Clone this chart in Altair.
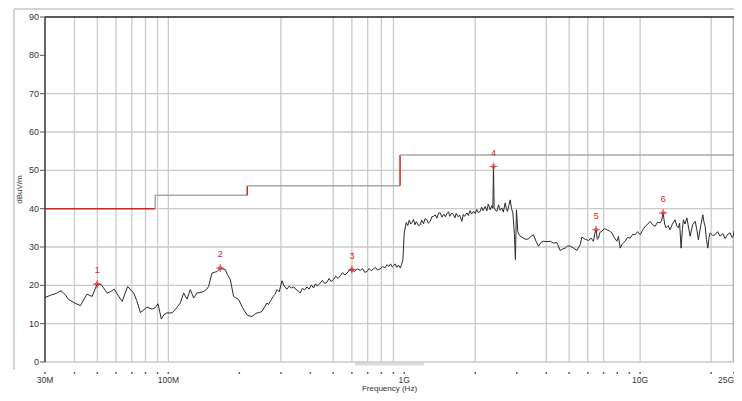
import altair as alt
import pandas as pd

# ---- measured trace (frequency in MHz, level in dBuV/m) ----
freq_a = [30, 31.6, 33.5, 35.1, 36.5, 37.8, 40, 42.4, 44, 45.2, 47.5, 49.9, 51.9, 55.0, 57, 59.0, 61.5, 63.7,
          67.2, 71.3, 73.5, 76.1, 81.2, 85.3, 88, 90.4, 93.4, 96, 98.7, 103.7, 108, 112.4, 116.1, 120, 123.9,
          128, 132.3, 136, 141.1, 145, 148.1, 153.1, 157, 160.8, 166.1, 170, 174.4, 178, 183.1, 189.1, 193,
          198.6, 205.2, 210, 215.6, 220, 226.3, 232, 237.5, 243, 249.5, 255, 261.9, 266, 270.5, 274, 277.7,
          283, 288.8, 295]
level_a = [16.8, 17.4, 17.9, 18.6, 17.6, 16.3, 15.4, 14.7, 16.5, 17.7, 17.1, 20.3, 20.2, 18.0, 18.4, 19.0, 17.2,
           15.8, 19.7, 18.0, 16.0, 12.9, 14.3, 13.8, 14.2, 15.2, 11.2, 12.4, 12.8, 12.8, 14.0, 15.4, 18.0, 16.4,
           18.9, 16.7, 18.0, 18.1, 18.4, 18.9, 19.7, 23.2, 23.4, 23.6, 24.5, 24.3, 24.1, 22.8, 21.5, 17.1, 16.8,
           16.3, 14.5, 13.4, 12.3, 12.0, 11.9, 12.4, 12.8, 12.9, 13.2, 14.2, 15.4, 15.0, 15.8, 16.4, 17.1, 17.6,
           18.9, 18.3]

freq_b = [303.2, 310, 318.4, 325, 332, 339.6, 346, 354, 362.5, 370, 378, 387, 395, 404, 412.8, 420, 428, 440.6,
          450, 460, 470.5, 480, 490, 501.6, 512, 524, 535.7, 548, 560, 571.8, 585, 600, 615, 630, 651, 665, 680,
          695, 710, 725, 741, 755, 770, 791, 810, 830, 845, 860, 875, 890, 901, 915, 930, 945, 962, 975, 987,
          1000, 1020]
level_b = [21.2, 19.8, 19.0, 19.8, 19.3, 19.6, 19.0, 18.6, 18.0, 19.2, 18.8, 19.6, 19.0, 20.1, 19.3, 20.4, 19.8,
           20.6, 21.3, 20.5, 20.8, 21.8, 21.0, 21.5, 22.4, 21.8, 22.5, 23.3, 22.7, 23.2, 23.9, 24.1, 23.6, 24.3,
           23.9, 24.4, 23.4, 23.6, 24.4, 23.8, 24.3, 24.7, 24.0, 24.3, 24.9, 24.6, 25.4, 24.9, 25.6, 24.8, 25.1,
           25.6, 24.7, 25.3, 24.5, 25.5, 26.7, 33.7, 36.4]

freq_c = [1035, 1050, 1065, 1078, 1095, 1110, 1125, 1150, 1170, 1185, 1207, 1225, 1248, 1265, 1289, 1310, 1331,
          1353, 1375, 1400, 1421, 1445, 1470, 1495, 1517, 1540, 1560, 1590, 1618, 1640, 1660, 1690, 1720, 1756,
          1780, 1800, 1844, 1870, 1900, 1930, 1967, 2000, 2030, 2060, 2099, 2130, 2160, 2204, 2240, 2270, 2314,
          2350, 2375, 2390, 2405, 2440, 2471, 2510, 2550, 2594, 2630, 2679, 2710, 2740, 2775, 2813, 2850, 2888,
          2930, 2960, 2990, 3030, 3081]
level_c = [35.6, 37.0, 36.0, 36.3, 37.2, 35.8, 36.6, 35.6, 35.8, 37.0, 36.1, 37.4, 37.1, 36.2, 36.7, 37.9, 38.0,
           38.4, 37.5, 38.9, 38.9, 37.8, 38.6, 37.9, 38.7, 39.2, 38.0, 38.9, 38.4, 37.6, 38.8, 37.9, 38.3, 36.7,
           38.5, 38.0, 38.9, 38.2, 39.5, 38.6, 39.3, 38.7, 39.8, 39.0, 39.3, 40.4, 39.5, 40.6, 39.4, 41.2, 39.7,
           40.8, 40.1, 51.0, 40.3, 39.5, 39.3, 41.0, 39.6, 40.2, 39.1, 41.5, 40.0, 39.3, 40.8, 42.3, 40.0, 38.9,
           33.5, 26.7, 39.7, 34.0, 33.0]

freq_d = [3203, 3280, 3363, 3450, 3531, 3620, 3708, 3800, 3894, 4000, 4157, 4300, 4436, 4581, 4700, 4811, 4930,
          5051, 5200, 5393, 5569, 5662, 5850, 6038, 6200, 6340, 6420, 6510, 6580, 6658, 6750, 6882, 7050, 7226,
          7400, 7587, 7750, 7966, 8100, 8227, 8400, 8638, 8850, 9070, 9300, 9524, 9750, 10000, 10250, 10500,
          10750, 11020, 11300, 11580, 11850, 12150, 12350, 12520, 12700, 12890, 13150, 13400, 13700, 14070,
          14300, 14530, 14700, 14920, 15100, 15260, 15500, 15780, 16000, 16290, 16700, 17110, 17400, 17660,
          18000, 18440, 18650, 18860, 19100, 19360, 19600, 19800, 20300, 20790, 21300, 21830, 22400, 22920,
          23500, 24070, 24500, 24850, 25000]
level_d = [32.3, 32.0, 32.1, 32.8, 33.2, 31.5, 30.2, 31.2, 31.5, 31.4, 31.5, 31.0, 31.2, 29.1, 29.5, 29.7, 30.3,
           30.2, 29.8, 29.1, 30.6, 32.6, 32.0, 31.7, 32.3, 31.5, 33.5, 34.5, 32.0, 32.3, 33.8, 34.1, 34.8, 34.5,
           34.2, 33.7, 32.6, 31.5, 32.8, 29.7, 30.8, 31.5, 32.5, 32.3, 33.3, 33.2, 34.0, 33.2, 34.4, 35.4, 35.9,
           36.7, 35.8, 35.4, 36.5, 36.3, 37.0, 38.9, 36.0, 35.0, 35.6, 34.5, 36.0, 37.1, 35.5, 35.0, 36.2, 29.7,
           34.5, 37.1, 36.0, 37.6, 35.5, 32.8, 35.8, 36.7, 34.5, 31.9, 35.0, 38.4, 36.5, 35.4, 32.0, 29.7, 32.5,
           33.7, 33.0, 33.2, 34.0, 32.8, 33.5, 32.2, 33.3, 33.7, 32.5, 32.8, 34.2]

# ---- limit line segments ----
lim_f1 = [30, 88, 88, 216, 216, 960, 960]
lim_f2 = [88, 88, 216, 216, 960, 960, 25000]
lim_l1 = [40, 40, 43.5, 43.5, 46, 46, 54]
lim_l2 = [40, 43.5, 43.5, 46, 46, 54, 54]
lim_col = ["#e02020", "#a8a8a8", "#a8a8a8", "#e02020", "#a8a8a8", "#e02020", "#a8a8a8"]

# ---- markers ----
mk_freq = [49.9, 166, 600, 2390, 6510, 12520]
mk_level = [20.3, 24.5, 24.1, 51.0, 34.5, 38.9]
mk_label = ["1", "2", "3", "4", "5", "6"]

# ---- axes / grid ----
x_ticks = [30, 40, 50, 60, 70, 80, 90, 100, 200, 300, 400, 500, 600, 700, 800, 900,
           1000, 2000, 3000, 4000, 5000, 6000, 7000, 8000, 9000, 10000, 20000, 25000]
x_label_vals = [30, 100, 1000, 10000, 25000]
x_label_text = ["30M", "100M", "1G", "10G", "25G"]
v_grid = [40, 50, 60, 70, 80, 90, 100, 300, 500, 600, 700, 800, 900,
          2000, 4000, 5000, 6000, 7000, 10000, 20000]
h_grid = [0, 10, 20, 30, 40, 50, 60, 70]
y_ticks = [0, 10, 20, 30, 40, 50, 60, 70, 80, 90]
x_title = "Frequency (Hz)"
y_title = "dBuV/m"

for fl, ll in [(freq_a, level_a), (freq_b, level_b), (freq_c, level_c), (freq_d, level_d)]:
    assert len(fl) == len(ll)

trace = pd.DataFrame({"f": freq_a + freq_b + freq_c + freq_d,
                      "l": level_a + level_b + level_c + level_d})
limit = pd.DataFrame({"f1": lim_f1, "f2": lim_f2, "l1": lim_l1, "l2": lim_l2, "c": lim_col})
marks = pd.DataFrame({"f": mk_freq, "l": mk_level, "t": mk_label})

FONT = "Liberation Sans"
W, H = 689, 345

xs = alt.Scale(type="log", domain=[30, 25000], nice=False)
ys = alt.Scale(domain=[0, 90], nice=False, zero=False)


def X(field):
    return alt.X(field, scale=xs, axis=None)


def Y(field):
    return alt.Y(field, scale=ys, axis=None)


one = pd.DataFrame({"a": [0]})

# grid
hgrid = alt.Chart(pd.DataFrame({"hv": h_grid})).mark_rule(color="#cacaca", strokeWidth=1.3).encode(y=Y("hv:Q"))
vgrid = alt.Chart(pd.DataFrame({"vv": v_grid})).mark_rule(color="#cacaca", strokeWidth=1.3).encode(x=X("vv:Q"))

# frame pieces
top_border = alt.Chart(one).mark_rule(color="#222", strokeWidth=1.5).encode(
    x=alt.value(0), x2=alt.value(W), y=alt.value(0))
left_border = alt.Chart(one).mark_rule(color="#333", strokeWidth=1.5).encode(
    x=alt.value(0), y=alt.value(0), y2=alt.value(H))
right_border = alt.Chart(one).mark_rule(color="#b0b0b0", strokeWidth=1.3).encode(
    x=alt.value(W - 0.7), y=alt.value(0), y2=alt.value(H))
panel_top = alt.Chart(one).mark_rule(color="#d4d4d4", strokeWidth=2).encode(
    x=alt.value(-31), x2=alt.value(W), y=alt.value(-8))
panel_left = alt.Chart(one).mark_rule(color="#d4d4d4", strokeWidth=2).encode(
    x=alt.value(-31), y=alt.value(-8), y2=alt.value(353))
scroll_bar = alt.Chart(one).mark_rule(color="#dcdcdc", strokeWidth=3).encode(
    x=alt.value(310), x2=alt.value(379), y=alt.value(347))

# hand-built axes (ticks and labels from the arrays, through the scales)
ytick_df = pd.DataFrame({"yv": y_ticks, "yl": [str(v) for v in y_ticks]})
y_tick_marks = alt.Chart(ytick_df).mark_rule(color="#555", strokeWidth=1).encode(
    x=alt.value(-5), x2=alt.value(0), y=Y("yv:Q"))
y_tick_labels = alt.Chart(ytick_df).mark_text(
    align="right", baseline="middle", font=FONT, fontSize=9, color="#333").encode(
    x=alt.value(-6), y=Y("yv:Q"), text="yl:N")
y_title_mark = alt.Chart(pd.DataFrame({"t": [y_title]})).mark_text(
    angle=270, baseline="middle", font=FONT, fontSize=8, color="#333").encode(
    x=alt.value(-25), y=alt.value(H / 2), text="t:N")

x_tick_marks = alt.Chart(pd.DataFrame({"xv": x_ticks})).mark_rule(color="#666", strokeWidth=1.5).encode(
    x=X("xv:Q"), y=alt.value(355), y2=alt.value(357))
xlab_df = pd.DataFrame({"xv": x_label_vals, "xl": x_label_text})
x_tick_labels = alt.Chart(xlab_df.iloc[:-1]).mark_text(
    baseline="middle", font=FONT, fontSize=8.5, color="#333").encode(
    x=X("xv:Q"), y=alt.value(363), text="xl:N")
x_last_label = alt.Chart(xlab_df.iloc[-1:]).mark_text(
    align="right", baseline="middle", font=FONT, fontSize=8.5, color="#333").encode(
    x=X("xv:Q"), y=alt.value(363), text="xl:N")
x_title_mark = alt.Chart(pd.DataFrame({"t": [x_title]})).mark_text(
    baseline="middle", font=FONT, fontSize=8, color="#333").encode(
    x=alt.value(W / 2), y=alt.value(372), text="t:N")

# data layers
limit_layer = alt.Chart(limit).mark_rule(strokeWidth=1.5).encode(
    x=X("f1:Q"), x2="f2:Q", y=Y("l1:Q"), y2="l2:Q", color=alt.Color("c:N", scale=None))

trace_layer = alt.Chart(trace).mark_line(color="#2a2a2a", strokeWidth=1).encode(
    x=X("f:Q"), y=Y("l:Q"))

cross = alt.Chart(marks).mark_point(shape="M-1,0L1,0M0,-1L0,1", size=64, color="#e02020",
                                   strokeWidth=1.2, filled=False).encode(x=X("f:Q"), y=Y("l:Q"))
ring = alt.Chart(marks).mark_point(shape="circle", size=12, color="#e02020",
                                  strokeWidth=1, filled=False).encode(x=X("f:Q"), y=Y("l:Q"))
labels = alt.Chart(marks).mark_text(color="#e02020", font=FONT, fontSize=9, dy=-14).encode(
    x=X("f:Q"), y=Y("l:Q"), text="t:N")

chart = alt.layer(
    panel_top, panel_left, scroll_bar, hgrid, vgrid, right_border, limit_layer, trace_layer,
    cross, ring, labels, top_border, left_border,
    y_tick_marks, y_tick_labels, y_title_mark, x_tick_marks, x_tick_labels, x_last_label, x_title_mark
).properties(
    width=W, height=H,
    autosize=alt.AutoSizeParams(type="none"),
    padding={"left": 37, "top": 9, "right": 0, "bottom": 31},
    background="white",
).configure_view(strokeWidth=0)

chart.save("out.html", embed_options={"renderer": "svg", "actions": False})
